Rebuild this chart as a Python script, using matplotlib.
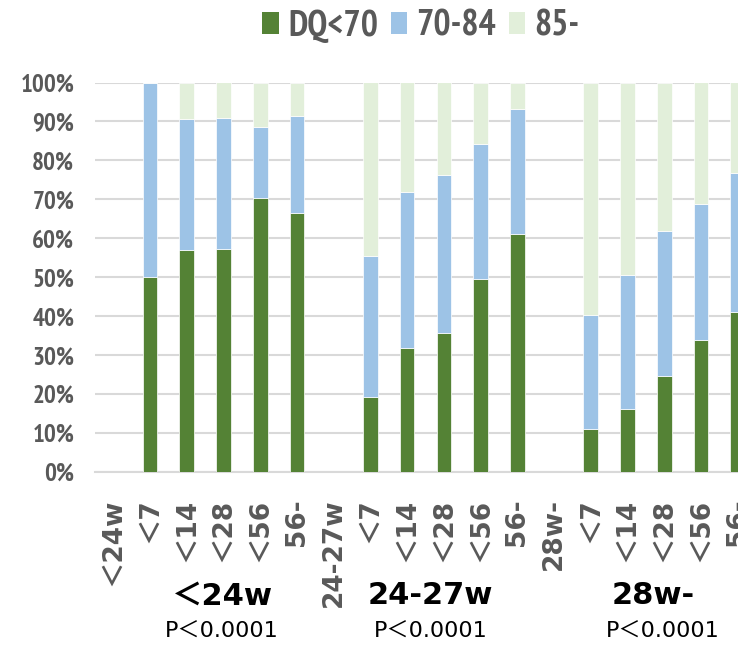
import matplotlib
matplotlib.use("Agg")
import matplotlib.pyplot as plt
from matplotlib.patches import Patch
from matplotlib.ticker import FuncFormatter

categories = ["＜24w", "＜7", "＜14", "＜28", "＜56", "56-",
              "24-27w", "＜7", "＜14", "＜28", "＜56", "56-",
              "28w-", "＜7", "＜14", "＜28", "＜56", "56-"]
dq_lt70 = [0, 50.0, 56.9, 57.2, 70.4, 66.5,
           0, 19.3, 31.9, 35.7, 49.6, 61.0,
           0, 11.0, 16.1, 24.6, 33.8, 41.0]
dq_70_84 = [0, 50.0, 33.8, 33.6, 18.1, 25.0,
            0, 36.2, 39.9, 40.5, 34.6, 32.2,
            0, 29.2, 34.6, 37.2, 35.0, 35.7]
dq_85 = [0, 0, 9.3, 9.2, 11.5, 8.5,
         0, 44.5, 28.2, 23.8, 15.8, 6.8,
         0, 59.8, 49.3, 38.2, 31.2, 23.3]
series_names = ["DQ<70", "70-84", "85-"]
groups = ["＜24w", "24-27w", "28w-"]
p_values = ["P＜0.0001", "P＜0.0001", "P＜0.0001"]

colors = ["#548235", "#9DC3E6", "#E2EFDA"]
gray = "#595959"
cjk = ["DejaVu Sans", "Noto Sans CJK JP"]
narrow = ["PT Sans Narrow", "DejaVu Sans"]

fig = plt.figure(figsize=(7.38, 6.45), dpi=100)
# axes runs past the right edge, like the cropped original
ax = fig.add_axes([95 / 738, 173 / 645, 661 / 738, 389.5 / 645])

x = range(len(categories))
bottom2 = [a + b for a, b in zip(dq_lt70, dq_70_84)]
ax.bar(x, dq_lt70, width=0.4, color=colors[0], edgecolor="#FFFFFF", linewidth=0.5, zorder=3)
ax.bar(x, dq_70_84, width=0.4, bottom=dq_lt70, color=colors[1], edgecolor="#FFFFFF", linewidth=0.5, zorder=3)
ax.bar(x, dq_85, width=0.4, bottom=bottom2, color=colors[2], edgecolor="#FFFFFF", linewidth=0.5, zorder=3)

ax.set_xlim(-0.5, len(categories) - 0.5)
ax.set_ylim(0, 100)
ax.set_yticks(range(0, 101, 10))
ax.yaxis.set_major_formatter(FuncFormatter(lambda v, p: "%d%%" % v))
ax.grid(axis="y", color="#D9D9D9", linewidth=1.5, zorder=0)
for s in ["top", "right", "left"]:
    ax.spines[s].set_visible(False)
ax.spines["bottom"].set_color("#D9D9D9")
ax.spines["bottom"].set_linewidth(1.5)
ax.tick_params(length=0)
ax.tick_params(axis="y", pad=15)
ax.tick_params(axis="x", pad=19)
for lab in ax.get_yticklabels():
    lab.set_family(narrow)
    lab.set_fontweight("bold")
    lab.set_fontsize(18)
    lab.set_color(gray)
ax.set_xticks(list(x))
ax.set_xticklabels(categories, rotation=90, family=cjk, fontweight="bold",
                   fontsize=19, color=gray)

# group labels under the category labels
group_x = [222, 430, 653]
p_x = [222, 431, 663]
for g, gx in zip(groups, group_x):
    fig.text(gx / 738, 1 - 596 / 645, g, ha="center", va="center",
             family=cjk, fontweight="bold", fontsize=22, color="black")
for p, px in zip(p_values, p_x):
    fig.text(px / 738, 1 - 632 / 645, p, ha="center", va="center",
             family=cjk, fontsize=16, color="black")

handles = [Patch(facecolor=c, edgecolor="none") for c in colors]
leg = fig.legend(handles, series_names, loc="center", bbox_to_anchor=(421 / 738, 1 - 26 / 645),
                 ncol=3, frameon=False, handlelength=0.46, handleheight=0.6,
                 handletextpad=0.25, columnspacing=0.35,
                 prop={"family": narrow, "weight": "bold", "size": 26})
for t in leg.get_texts():
    t.set_color(gray)

fig.savefig("out.png", dpi=100)
